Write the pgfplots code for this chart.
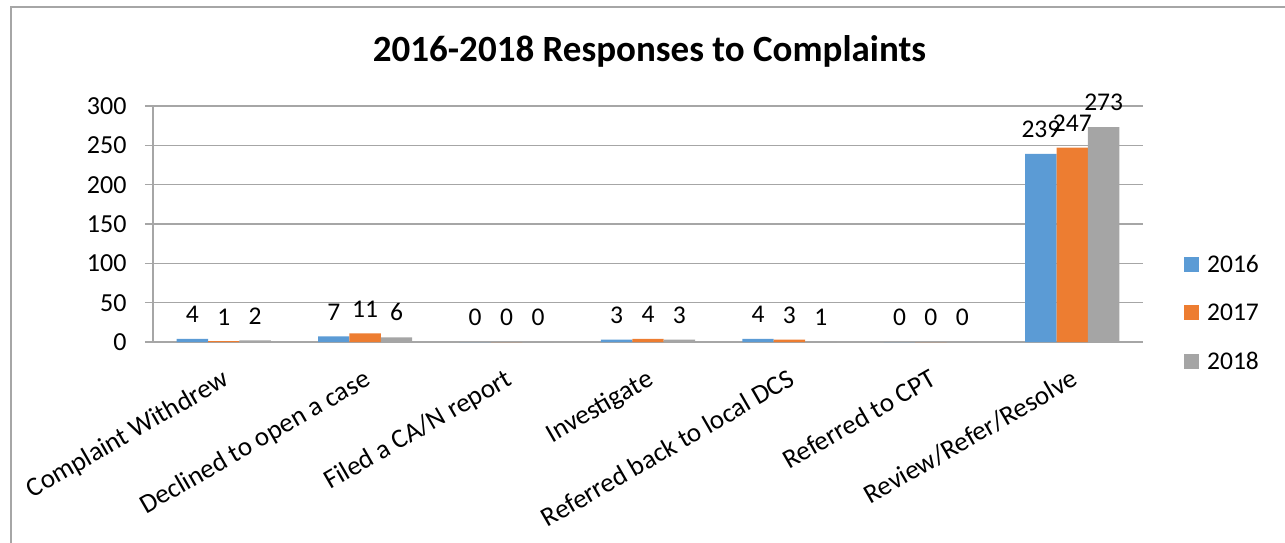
\documentclass[border=0pt]{standalone}
\usepackage{pgfplots}
\pgfplotsset{compat=1.18}
\usepackage{fontspec}
\setmainfont{Carlito}
\definecolor{c16}{HTML}{5B9BD5}
\definecolor{c17}{HTML}{ED7D31}
\definecolor{c18}{HTML}{A5A5A5}
\definecolor{gridc}{HTML}{A6A6A6}
\begin{document}
\begin{tikzpicture}[x=1pt,y=1pt]
\useasboundingbox (0,0) rectangle (1285,542);
\draw[color=gridc, line width=2pt] (11,-5) -- (11,535) -- (1290,535);
\begin{axis}[
  at={(153pt,200pt)}, anchor=south west,
  scale only axis, width=990pt, height=236pt,
  ybar=0pt, bar width=0.222,
  xmin=-0.5, xmax=6.5, ymin=0, ymax=300,
  ytick={0,50,...,300},
  xtick={0,...,6},
  xticklabels={Complaint Withdrew,Declined to open a case,Filed a CA/N report,Investigate,Referred back to local DCS,Referred to CPT,Review/Refer/Resolve},
  extra x ticks={-0.5,0.5,...,6.5},
  extra x tick labels={},
  extra x tick style={grid=none, major tick length=8pt, tick style={color=gridc, line width=1.2pt}},
  x tick style={draw=none},
  major x tick style={draw=none},
  ymajorgrids, grid style={color=gridc, line width=1.2pt},
  y tick style={color=gridc, line width=1.2pt},
  tick align=outside, major tick length=8pt,
  axis x line*=bottom, axis y line*=left,
  axis line style={color=gridc, line width=1.2pt, -},
  yticklabel style={font=\fontsize{26}{30}\selectfont, xshift=-15pt},
  xticklabel style={font=\fontsize{27}{31}\selectfont, rotate=30, anchor=north east, inner sep=0pt, yshift=-14pt, xshift=-11pt},
  /pgf/number format/assume math mode=true,
  nodes near coords,
  every node near coord/.append style={font=\fontsize{25.5}{29}\selectfont, anchor=south, inner sep=0pt, yshift=16pt, color=black},
  title={\bfseries 2016-2018 Responses to Complaints},
  title style={font=\fontsize{37}{42}\selectfont, at={(rel axis cs:0.5015,1.1652)}, anchor=base, inner sep=0pt, yshift=0pt},
  legend style={at={(rel axis cs:1.0414,0.1229)}, anchor=west, draw=none, fill=none, inner sep=0pt,
    font=\fontsize{25.5}{29}\selectfont, row sep=30pt, column sep=8pt,
    nodes={inner sep=0pt}},
  legend cell align=left,
  legend image code/.code={\fill[#1, draw=none] (0pt,-7.5pt) rectangle (15pt,7.5pt);},
]
\addplot[fill=c16, draw=none] coordinates {(0,4) (1,7) (2,0) (3,3) (4,4) (5,0) (6,239)};
\addplot[fill=c17, draw=none] coordinates {(0,1) (1,11) (2,0) (3,4) (4,3) (5,0) (6,247)};
\addplot[fill=c18, draw=none] coordinates {(0,2) (1,6) (2,0) (3,3) (4,1) (5,0) (6,273)};
\legend{2016,2017,2018}
\end{axis}
\end{tikzpicture}
\end{document}
